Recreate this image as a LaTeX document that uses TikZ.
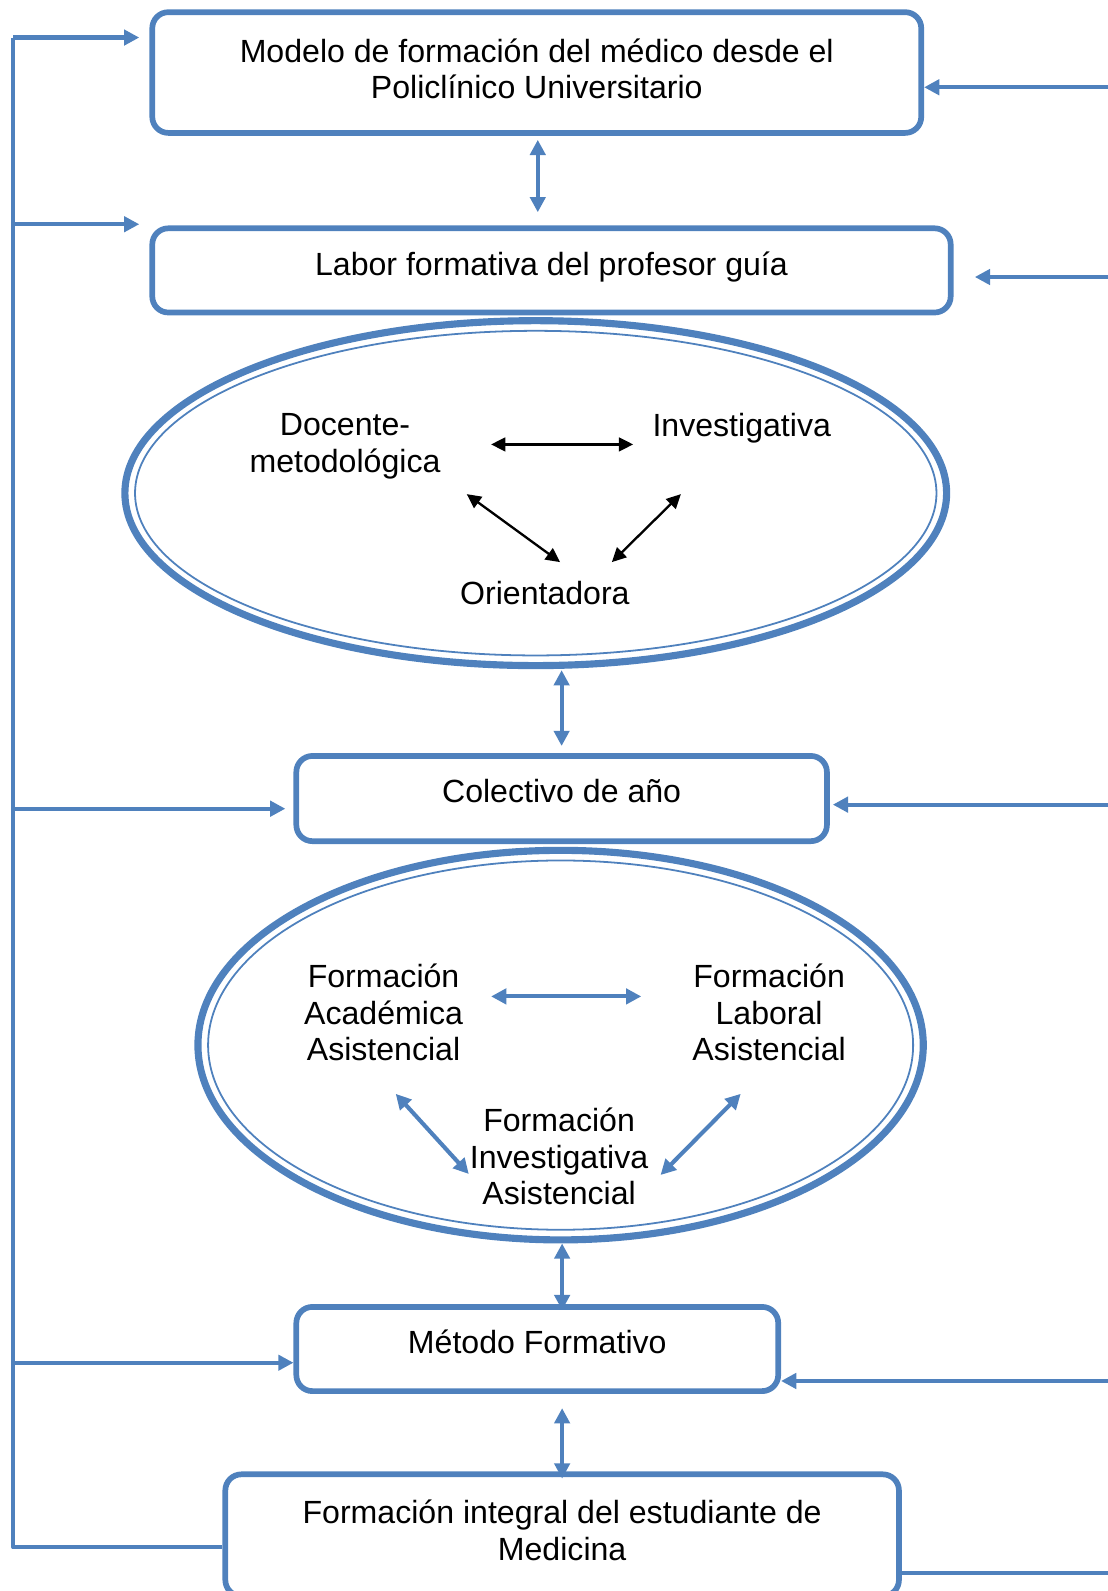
\documentclass[tikz,border=0pt]{standalone}
\usepackage{fontspec}
\setmainfont{Liberation Sans}
\usetikzlibrary{shapes.geometric, arrows.meta, calc}
\definecolor{ofblue}{HTML}{4F81BD}

\begin{document}
\begin{tikzpicture}[x=0.02cm, y=-0.02cm, line join=round,
  box/.style={draw=ofblue, line width=3.2pt, rounded corners=9pt, align=center, inner sep=0pt,
    font=\fontsize{18}{20.5}\selectfont},
  txt/.style={align=center, inner sep=0pt, font=\fontsize{18}{20.5}\selectfont},
  ring/.style={draw=ofblue, line width=4pt, ellipse, inner sep=0pt},
  link/.style={draw=ofblue, line width=2.3pt},
  flow/.style={link, -{Triangle[length=0.3cm, width=0.3cm]}},
  dflow/.style={link, {Triangle[length=0.3cm, width=0.3cm]}-{Triangle[length=0.3cm, width=0.3cm]}},
  blk/.style={draw=black, line width=1.3pt, {Triangle[length=0.28cm, width=0.27cm]}-{Triangle[length=0.28cm, width=0.27cm]}}]

  \useasboundingbox (0,0) rectangle (1091,1568);

  \node[box, minimum width=15.16cm, minimum height=2.38cm, text depth=4.5pt] (modelo) at (529,71.5)
    {Modelo de formación del médico desde el\\Policlínico Universitario};
  \node[box, minimum width=15.74cm, minimum height=1.66cm, text depth=7.2pt] (labor) at (543.5,266.5)
    {Labor formativa del profesor guía};

  \node[ring, minimum width=16.2cm, minimum height=6.8cm] (funciones) at (528,486) {};
  \draw[ofblue, line width=1pt] (funciones.center) ellipse [x radius=7.9cm, y radius=3.2cm];
  \node[txt] (docente) at (340,440) {Docente-\\metodológica};
  \node[txt] (investiga) at (731,422) {Investigativa};
  \node[txt] (orienta) at (537,584) {Orientadora};

  \node[box, minimum width=10.46cm, minimum height=1.68cm, text depth=9.1pt] (colectivo) at (553.5,787)
    {Colectivo de año};

  \node[ring, minimum width=14.3cm, minimum height=7.68cm] (dimensiones) at (552.5,1030) {};
  \draw[ofblue, line width=1pt] (dimensiones.center) ellipse [x radius=6.95cm, y radius=3.64cm];
  \node[txt] (academica) at (378,998) {Formación\\Académica\\Asistencial};
  \node[txt] (laboral) at (758,998) {Formación\\Laboral\\Asistencial};
  \node[txt] (investasis) at (551,1140) {Formación\\Investigativa\\Asistencial};

  \node[box, minimum width=9.5cm, minimum height=1.66cm, text depth=8pt] (metodo) at (529.5,1329.5)
    {Método Formativo};
  \node[box, minimum width=13.28cm, minimum height=2.4cm, text depth=5.7pt] (integral) at (554,1513)
    {Formación integral del estudiante de\\Medicina};

  % vertical links
  \draw[dflow] ($(modelo.south)+(1,4)$) -- ($(labor.north -| modelo.south)+(1,-13)$);
  \draw[dflow] ($(funciones.south -| colectivo.north)+(0,1)$) -- ($(colectivo.north)+(0,-7)$);
  \draw[dflow] ($(dimensiones.south -| integral.north)$) -- ($(metodo.north -| integral.north)+(0,6)$);
  \draw[dflow] ($(metodo.south -| integral.north)+(0,14)$) -- ($(integral.north)+(0,7)$);

  % inside the rings
  \draw[blk] ($(docente)+(144,-2)$) -- ($(investiga)+(-107,16)$);
  \draw[blk] ($(docente)+(120,47)$) -- ($(orienta)+(15,-30)$);
  \draw[blk] ($(investiga)+(-60,65)$) -- ($(orienta)+(66,-30)$);

  \draw[dflow] ($(academica)+(106,-16)$) -- ($(laboral)+(-126,-16)$);
  \draw[dflow] ($(academica)+(12,80)$) -- ($(investasis)+(-89,17)$);
  \draw[dflow] ($(laboral)+(-28,80)$) -- ($(investasis)+(100,18)$);

  % feedback on the left
  \coordinate (lb1) at (13,37);
  \coordinate (lb2) at (13,221);
  \coordinate (lb3) at (13,797);
  \coordinate (lb4) at (13,1343);
  \coordinate (lb5) at (13,1525);
  \draw[link] ($(integral.west)+(0,12)$) -- (lb5) -- (lb1);
  \draw[flow] (lb1) -- ($(modelo.west |- lb1)+(-10,0)$);
  \draw[flow] (lb2) -- ($(labor.west |- lb2)+(-10,0)$);
  \draw[flow] (lb3) -- ($(colectivo.west |- lb3)+(-8,0)$);
  \draw[flow] (lb4) -- (metodo.west |- lb4);

  % feedback on the right
  \coordinate (rb1) at (1100,86);
  \coordinate (rb2) at (1100,273);
  \coordinate (rb3) at (1100,793);
  \coordinate (rb4) at (1100,1361);
  \coordinate (rb5) at (1100,1550);
  \draw[flow] (rb1) -- (modelo.east |- rb1);
  \draw[flow] (rb2) -- ($(labor.east |- rb2)+(21,0)$);
  \draw[flow] (rb3) -- ($(colectivo.east |- rb3)+(3,0)$);
  \draw[flow] (rb4) -- (metodo.east |- rb4);
  \draw[link] (integral.east |- rb5) -- (rb5);
\end{tikzpicture}
\end{document}
